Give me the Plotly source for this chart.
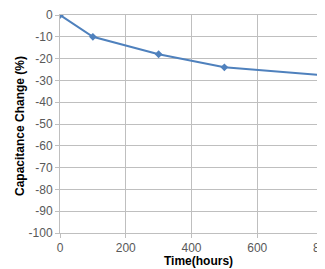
import plotly.graph_objects as go

time_hours = [0, 100, 300, 500, 1000]
cap_change = [0, -10, -18, -24, -30]
x_ticks = [0, 200, 400, 600, 800]
y_ticks = list(range(0, -101, -10))

fig = go.Figure()
fig.add_trace(go.Scatter(
    x=time_hours, y=cap_change, mode="lines+markers",
    line=dict(color="#4f81bd", width=2),
    marker=dict(symbol="diamond", size=6, color="#4f81bd"),
    showlegend=False, cliponaxis=True,
))
# page body has an 8px margin, so the figure is sized/offset to compensate
fig.update_layout(
    width=317, height=261,
    margin=dict(l=52, r=2, t=7, b=36),
    paper_bgcolor="white", plot_bgcolor="white",
    font=dict(family="Liberation Sans, Arial, sans-serif", size=12, color="#595959"),
    annotations=[
        dict(text="<b>Time(hours)</b>", xref="paper", yref="paper", x=0.528, y=0,
             xanchor="center", yanchor="top", yshift=-19, showarrow=False,
             font=dict(size=12, color="#000000")),
        dict(text="<b>Capacitance Change (%)</b>", xref="paper", yref="paper", x=0, y=0.5,
             xanchor="center", yanchor="middle", xshift=-40, yshift=-2, textangle=-90,
             showarrow=False, font=dict(size=12, color="#000000")),
    ],
)
fig.update_xaxes(
    range=[0, 800], tickvals=x_ticks, ticktext=[str(v) for v in x_ticks],
    showgrid=True, gridcolor="#bfbfbf", gridwidth=1,
    showline=True, linecolor="#bfbfbf", linewidth=1, mirror=True,
    ticks="outside", ticklen=4, tickcolor="#bfbfbf",
    zeroline=False, automargin=False, ticklabeloverflow="allow",
)
fig.update_yaxes(
    range=[-100, 0], tickvals=y_ticks, ticktext=[str(v) for v in y_ticks],
    showgrid=True, gridcolor="#bfbfbf", gridwidth=1,
    showline=True, linecolor="#bfbfbf", linewidth=1, mirror=True,
    ticks="outside", ticklen=4, tickcolor="#bfbfbf",
    zeroline=False, automargin=False,
)
fig.write_html("out.html")
